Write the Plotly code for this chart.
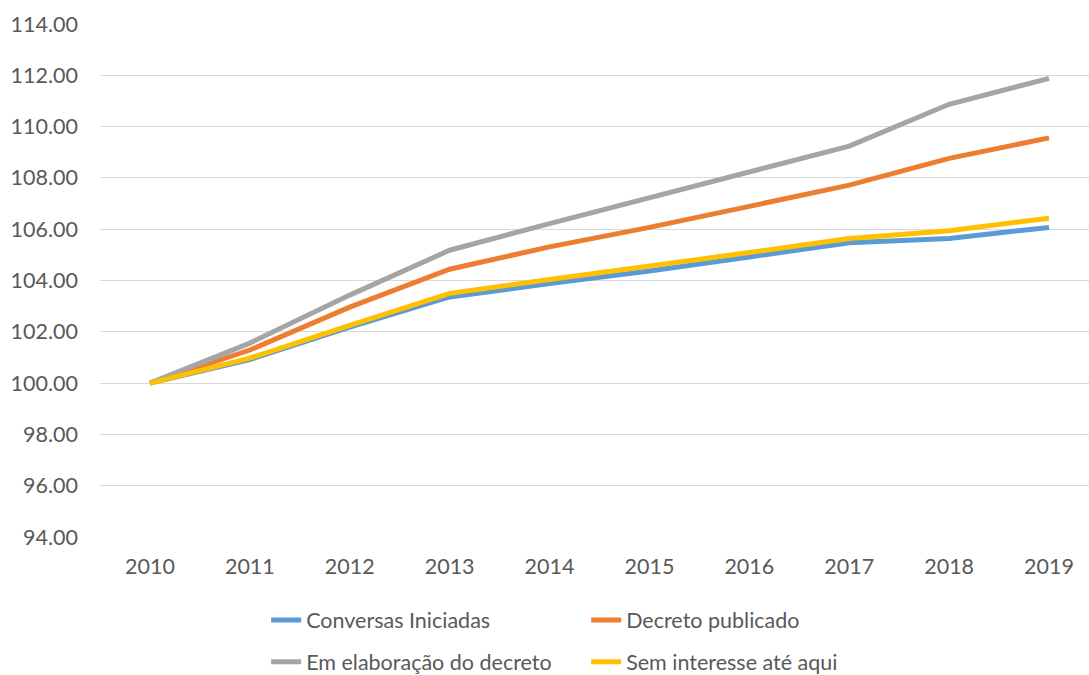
import plotly.graph_objects as go

years = ["2010", "2011", "2012", "2013", "2014", "2015", "2016", "2017", "2018", "2019"]
conversas = [100.00, 100.92, 102.18, 103.36, 103.88, 104.37, 104.92, 105.47, 105.64, 106.07]
decreto = [100.00, 101.29, 102.96, 104.44, 105.31, 106.07, 106.89, 107.72, 108.76, 109.56]
elaboracao = [100.00, 101.56, 103.43, 105.18, 106.22, 107.22, 108.23, 109.24, 110.87, 111.88]
sem_interesse = [100.00, 100.97, 102.25, 103.50, 104.04, 104.55, 105.09, 105.64, 105.94, 106.43]

names = ["Conversas Iniciadas", "Decreto publicado", "Em elaboração do decreto", "Sem interesse até aqui"]
colors = ["#5B9BD5", "#ED7D31", "#A5A5A5", "#FFC000"]
series = [conversas, decreto, elaboracao, sem_interesse]
legends = ["legend", "legend", "legend2", "legend2"]

FONT = "Lato"
TXT = "#595959"
FS = 21.5

fig = go.Figure()
for name, col, vals, lg in zip(names, colors, series, legends):
    fig.add_trace(go.Scatter(
        x=years, y=vals, mode="lines", name=name,
        line=dict(color=col, width=5),
        legend=lg,
    ))

fig.update_layout(
    width=1089, height=675,
    margin=dict(l=100, r=0, t=24, b=138, autoexpand=False),
    paper_bgcolor="white", plot_bgcolor="white",
    font=dict(family=FONT, size=FS, color=TXT),
    legend=dict(orientation="h", x=0.168, y=-0.162, xanchor="left", yanchor="middle",
                entrywidth=275, entrywidthmode="pixels", font=dict(size=FS, color=TXT),
                bgcolor="rgba(0,0,0,0)", traceorder="normal"),
    legend2=dict(orientation="h", x=0.168, y=-0.243, xanchor="left", yanchor="middle",
                 entrywidth=275, entrywidthmode="pixels", font=dict(size=FS, color=TXT),
                 bgcolor="rgba(0,0,0,0)", traceorder="normal"),
)
fig.update_xaxes(
    type="category", range=[-0.5, 9.4], showgrid=False, showline=False, zeroline=False,
    automargin=False,
    ticks="", tickfont=dict(family=FONT, size=FS, color=TXT), ticklabelstandoff=14,
)
fig.update_yaxes(
    range=[94, 114], dtick=2, tick0=94, tickformat=".2f", automargin=False,
    showgrid=True, gridcolor="#D9D9D9", gridwidth=1.3, zeroline=False, showline=False,
    ticks="", tickfont=dict(family=FONT, size=FS, color=TXT), ticklabelstandoff=21,
)

fig.write_html(
    "out.html",
    config={"displayModeBar": False},
    post_script="document.body.style.margin='0px';document.body.style.overflow='hidden';",
)
